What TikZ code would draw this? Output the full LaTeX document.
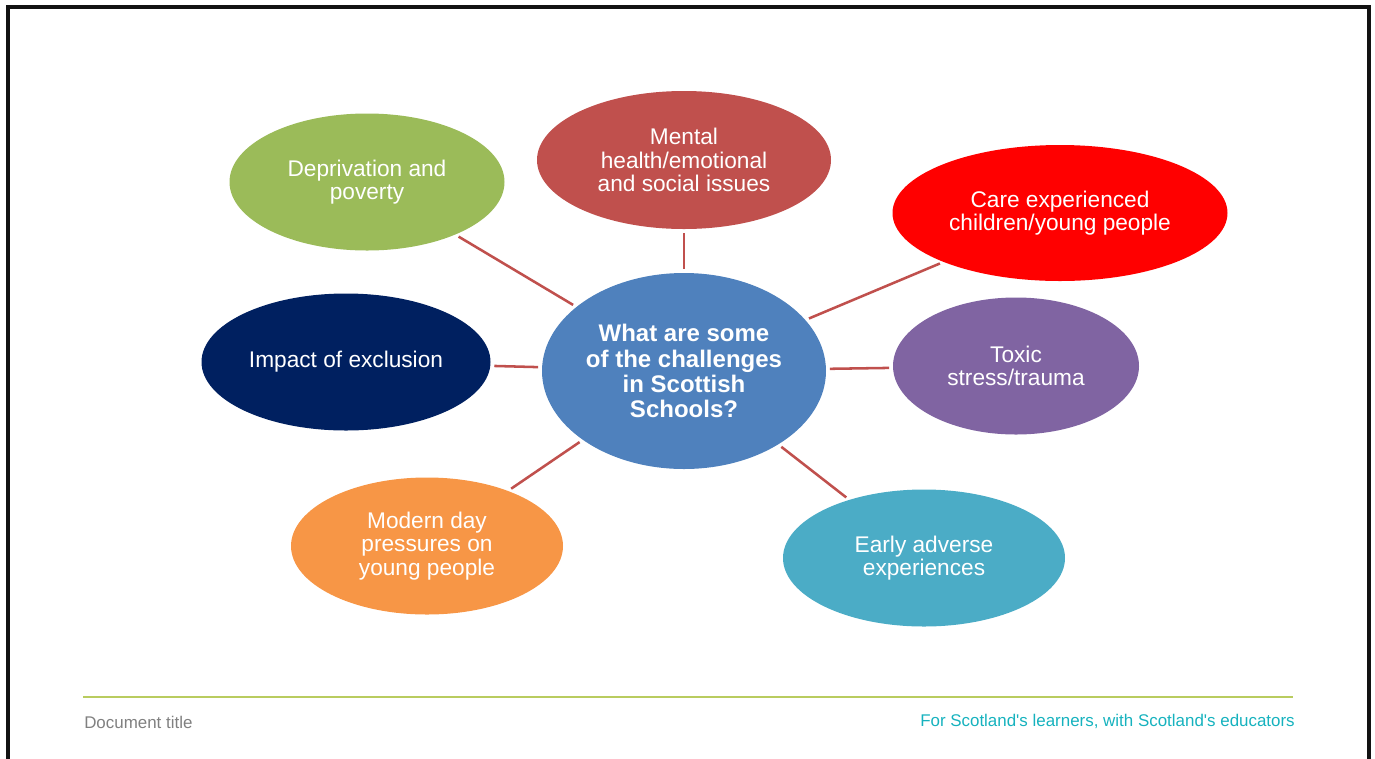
\documentclass[tikz,border=0pt]{standalone}
\usepackage{fontspec}
\setmainfont{Liberation Sans}
\newfontfamily\footfont[Ligatures=TeXOff]{Liberation Sans}
\usetikzlibrary{shapes.geometric}
\definecolor{cgreen}{HTML}{9BBB59}
\definecolor{cbrick}{HTML}{C0504D}
\definecolor{cred}{HTML}{FF0000}
\definecolor{cnavy}{HTML}{002060}
\definecolor{cblue}{HTML}{4F81BD}
\definecolor{cpurple}{HTML}{8064A2}
\definecolor{corange}{HTML}{F79646}
\definecolor{cteal}{HTML}{4BACC6}
\definecolor{footline}{RGB}{185,204,95}
\definecolor{footgray}{RGB}{128,128,128}
\definecolor{footteal}{RGB}{22,178,190}
\tikzset{
  bubble/.style={ellipse, inner sep=0pt, outer sep=0pt, text=white, align=center,
    font=\fontsize{17}{17.8}\selectfont},
  hub/.style={bubble, font=\fontsize{18}{18.8}\selectfont\bfseries},
  link/.style={draw=cbrick, line width=1.9pt, shorten <=3pt, shorten >=3pt},
  frame/.style={line width=2.6pt, draw=black!93}
}
\begin{document}
\begin{tikzpicture}[x=0.75pt,y=-0.75pt]
\useasboundingbox (0,0) rectangle (1375,758);
\draw[frame] (8,760) -- (8,7) -- (1369,7) -- (1369,760);

\node[hub, fill=cblue, minimum width=213pt, minimum height=147pt] (c) at (684,371)
  {What are some\\of the challenges\\in Scottish\\Schools?};
\node[bubble, fill=cgreen, minimum width=206.25pt, minimum height=102.75pt] (dep) at (367,182)
  {Deprivation and\\poverty};
\node[bubble, fill=cbrick, minimum width=220.5pt, minimum height=103.5pt] (men) at (684,160)
  {Mental\\health/emotional\\and social issues};
\node[bubble, fill=cred, minimum width=251.25pt, minimum height=102pt] (care) at (1060,213)
  {Care experienced\\children/young people};
\node[bubble, fill=cnavy, minimum width=216.75pt, minimum height=102.75pt] (imp) at (346,362)
  {Impact of exclusion};
\node[bubble, fill=cpurple, minimum width=184.5pt, minimum height=102.75pt] (tox) at (1016,366)
  {Toxic\\stress/trauma};
\node[bubble, fill=corange, minimum width=204pt, minimum height=102.75pt] (mod) at (427,546)
  {Modern day\\pressures on\\young people};
\node[bubble, fill=cteal, minimum width=211.5pt, minimum height=102.75pt] (ear) at (924,558)
  {Early adverse\\experiences};

\draw[link] (dep) -- (c);
\draw[link] (men) -- (c);
\draw[link] (care) -- (c);
\draw[link] (imp) -- (c);
\draw[link] (tox) -- (c);
\draw[link] (mod) -- (c);
\draw[link] (ear) -- (c);

\coordinate (fl) at (83,697);
\coordinate (fr) at (1293,697);
\draw[footline, line width=0.8pt] (fl) -- (fr);
\node[anchor=west, inner sep=0pt, text=footgray, font=\footfont\fontsize{12.7}{14}\selectfont] (doc) at (84,722) {Document title};
\node[anchor=east, inner sep=0pt, text=footteal, font=\footfont\fontsize{12.7}{14}\selectfont] (slog) at (1295,721) {For Scotland's learners, with Scotland's educators};
\end{tikzpicture}
\end{document}
